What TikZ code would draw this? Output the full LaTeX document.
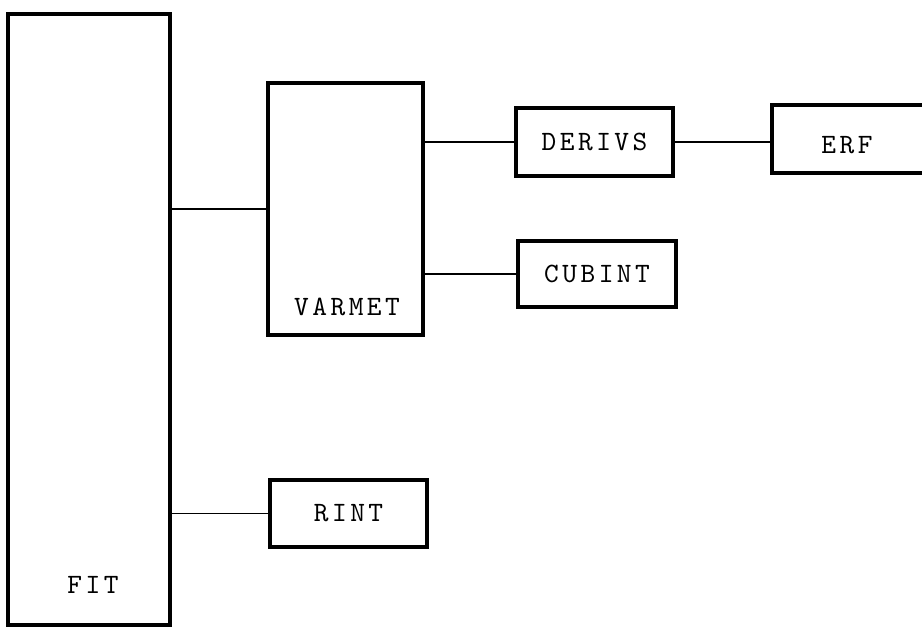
\documentclass[tikz,border=0pt]{standalone}
\usepackage{fontspec}
\newfontfamily\typefont{lmmono10-regular}[Extension=.otf,LetterSpace=12.5]
\usetikzlibrary{positioning,calc}

\begin{document}
\begin{tikzpicture}[x=1pt,y=-1pt,
    font=\typefont\fontsize{28}{32}\selectfont,
    blk/.style={draw=black,line width=3.5pt,inner sep=0pt,outer sep=0pt},
    lnk/.style={draw=black,line width=1.6pt}]
  \clip (0,0) rectangle (922,628);
  \node[blk, minimum width=162pt, minimum height=611pt] (fit) at (89,319.5) {};
  \node (fitlbl) at ($(fit.south)+(4,-40)$) {FIT};
  \node[blk, minimum width=155pt, minimum height=252pt] (varmet) at (345.5,209) {};
  \node (varmetlbl) at ($(varmet.south)+(1.5,-28)$) {VARMET};
  \node[blk, minimum width=157pt, minimum height=68pt] (derivs) at (594.5,142) {DERIVS};
  \node[blk, minimum width=158pt, minimum height=66pt] (cubint) at (597,274) {CUBINT};
  \node[blk, minimum width=157pt, minimum height=67pt] (rint) at (348.5,513.5) {RINT};
  \node[blk, minimum width=190pt, minimum height=68pt, anchor=west] (erf) at (772,139) {};
  \node (erflbl) at ($(erf.west)+(75,6)$) {ERF};

  \draw[lnk] (varmet.west) -- (varmet.west -| fit.east);
  \draw[lnk] (rint.west) -- (rint.west -| fit.east);
  \draw[lnk] (derivs.west) -- (derivs.west -| varmet.east);
  \draw[lnk] (cubint.west) -- (cubint.west -| varmet.east);
  \draw[lnk] (derivs.east) -- (derivs.east -| erf.west);
\end{tikzpicture}
\end{document}
